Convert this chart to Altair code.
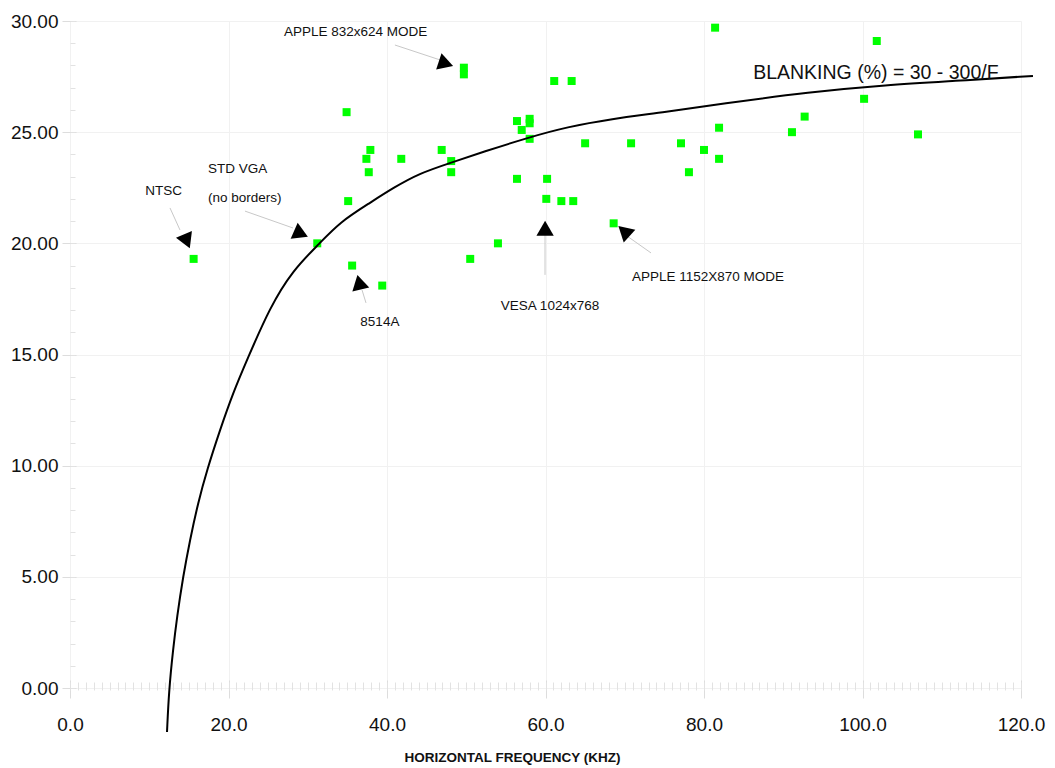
import altair as alt
import pandas as pd

# ---- monitor data (horizontal frequency kHz, blanking %) ----
freq_khz = [15.6, 31.2, 35.6, 39.4, 35.1, 34.9, 37.7, 37.9, 37.4, 41.8,
            46.9, 48.1, 48.1, 49.7, 49.7, 50.5, 54.0, 56.4, 56.4, 57.0,
            58.0, 58.0, 58.0, 60.2, 60.1, 61.1, 62.0, 63.3, 63.5, 65.0,
            68.6, 70.8, 77.1, 78.1, 80.0, 81.4, 81.9, 81.9, 91.1, 92.7,
            100.2, 101.8, 107.0]
blanking_pct = [19.3, 20.0, 19.0, 18.1, 21.9, 25.9, 23.2, 24.2, 23.8, 23.8,
                24.2, 23.7, 23.2, 27.9, 27.6, 19.3, 20.0, 25.5, 22.9, 25.1,
                25.6, 25.4, 24.7, 22.9, 22.0, 27.3, 21.9, 27.3, 21.9, 24.5,
                20.9, 24.5, 24.5, 23.2, 24.2, 29.7, 25.2, 23.8, 25.0, 25.7,
                26.5, 29.1, 24.9]

# ---- curve as drawn ----
curve_x = [12.24, 12.49, 13.0, 13.5, 14.26, 15.14, 16.15, 17.29, 18.93, 20.57,
           22.33, 25.24, 28.14, 31.42, 34.07, 37.85, 40.76, 44.16, 47.95, 52.11,
           58.04, 62.71, 68.14, 75.33, 82.0, 93.38, 103.09, 111.42, 121.51]
curve_y = [-1.98, -0.09, 1.71, 3.19, 4.99, 6.66, 8.32, 9.81, 11.61, 13.27,
           14.75, 17.14, 18.80, 19.97, 20.96, 21.82, 22.49, 23.16, 23.61, 24.11,
           24.78, 25.23, 25.59, 25.91, 26.27, 26.81, 27.12, 27.30, 27.53]

# ---- annotations ----
label_text = ["APPLE 832x624 MODE", "NTSC", "STD VGA", "(no borders)", "8514A",
              "VESA 1024x768", "APPLE 1152X870 MODE"]
label_x = [27.0, 11.8, 17.4, 17.4, 39.1, 60.57, 70.9]
label_y = [29.5, 22.35, 23.34, 22.04, 16.46, 17.18, 18.47]
label_align = ["left", "center", "left", "left", "center", "center", "left"]

formula_text = ["BLANKING (%) = 30 - 300/F"]
formula_x = [86.2]
formula_y = [27.68]

leader_x = [41.0, 12.62, 22.08, 37.35, 59.94, 73.31]
leader_y = [28.92, 21.59, 21.45, 17.32, 18.58, 19.57]
leader_x2 = [46.69, 13.88, 28.14, 36.85, 59.94, 70.28]
leader_y2 = [28.25, 20.60, 20.69, 17.90, 20.38, 20.33]

arrow_x = [47.44, 14.31, 29.15, 36.48, 59.95, 69.9]
arrow_y = [28.08, 20.21, 20.43, 18.25, 20.68, 20.55]
arrow_angle = [108, 277, 114, 347, 0, 312]

x_major = [0, 20, 40, 60, 80, 100, 120]
y_major = [0, 5, 10, 15, 20, 25, 30]
x_minor = list(range(0, 121))
y_minor = list(range(0, 31))

pts = pd.DataFrame({"f": freq_khz, "b": blanking_pct})
crv = pd.DataFrame({"f": curve_x, "b": curve_y})
lbl = pd.DataFrame({"f": label_x, "b": label_y, "t": label_text, "a": label_align})
frm = pd.DataFrame({"f": formula_x, "b": formula_y, "t": formula_text})
ldr = pd.DataFrame({"f": leader_x, "b": leader_y, "f2": leader_x2, "b2": leader_y2})
arw = pd.DataFrame({"f": arrow_x, "b": arrow_y, "ang": arrow_angle})

SANS = "Liberation Sans, Arial, sans-serif"

xs = alt.Scale(domain=[0, 120], nice=False, zero=False)
ys = alt.Scale(domain=[0, 30], nice=False, zero=False)

x_main = alt.Axis(values=x_major, format=".1f", grid=True, gridColor="#f1f1f1",
                  tickColor="#dddddd", tickSize=18, offset=-8, domain=False,
                  labelFont=SANS, labelFontSize=19, labelColor="#111",
                  labelPadding=17, labelFlush=False,
                  title="HORIZONTAL FREQUENCY (KHZ)", titleFont=SANS,
                  titleFontSize=13.5, titleFontWeight="bold", titleColor="#111",
                  titlePadding=16, titleX=442, titleAlign="center", orient="bottom")
y_main = alt.Axis(values=y_major, format=".2f", grid=True, gridColor="#f1f1f1",
                  tickColor="#dddddd", tickSize=14, offset=-6, domain=False,
                  labelFont=SANS, labelFontSize=19, labelColor="#111",
                  labelPadding=4, labelFlush=False, title=None, orient="left")
x_min = alt.Axis(values=x_minor, labels=False, grid=False, tickColor="#e2e2e2",
                 tickSize=8, offset=-6, domain=False, title=None, orient="bottom")
y_min = alt.Axis(values=y_minor, labels=False, grid=False, tickColor="#e2e2e2",
                 tickSize=5, offset=-5, domain=False, title=None, orient="left")

points = alt.Chart(pts).mark_square(size=64, color="#00ff00", opacity=1).encode(
    x=alt.X("f:Q", scale=xs, axis=x_main),
    y=alt.Y("b:Q", scale=ys, axis=y_main),
)

curve = alt.Chart(crv).mark_line(color="black", strokeWidth=2, interpolate="basis").encode(
    x=alt.X("f:Q", scale=xs, axis=x_min),
    y=alt.Y("b:Q", scale=ys, axis=y_min),
)

leaders = alt.Chart(ldr).mark_rule(color="#c8c8c8", strokeWidth=1).encode(
    x=alt.X("f:Q", scale=xs, axis=None),
    y=alt.Y("b:Q", scale=ys, axis=None),
    x2="f2:Q", y2="b2:Q",
)

arrows = alt.Chart(arw).mark_point(shape="triangle-up", filled=True, color="black",
                                   size=300, opacity=1).encode(
    x=alt.X("f:Q", scale=xs, axis=None),
    y=alt.Y("b:Q", scale=ys, axis=None),
    angle=alt.Angle("ang:Q", scale=None),
)

labels_l = alt.Chart(lbl[lbl["a"] == "left"]).mark_text(
    align="left", baseline="middle", font=SANS, fontSize=13.5, color="#111").encode(
    x=alt.X("f:Q", scale=xs, axis=None),
    y=alt.Y("b:Q", scale=ys, axis=None),
    text="t:N",
)
labels_c = alt.Chart(lbl[lbl["a"] == "center"]).mark_text(
    align="center", baseline="middle", font=SANS, fontSize=13.5, color="#111").encode(
    x=alt.X("f:Q", scale=xs, axis=None),
    y=alt.Y("b:Q", scale=ys, axis=None),
    text="t:N",
)
formula = alt.Chart(frm).mark_text(
    align="left", baseline="middle", font=SANS, fontSize=19.5, color="#111").encode(
    x=alt.X("f:Q", scale=xs, axis=None),
    y=alt.Y("b:Q", scale=ys, axis=None),
    text="t:N",
)

chart = alt.layer(points, curve, leaders, arrows, labels_l, labels_c, formula).resolve_axis(
    x="independent", y="independent"
).properties(
    width=951, height=667,
    padding={"left": 62, "top": 13, "right": 26, "bottom": 85},
    autosize=alt.AutoSizeParams(type="none"),
    background="white",
).configure_view(stroke=None)

chart.save("out.html", embed_options={"renderer": "svg", "actions": False})
